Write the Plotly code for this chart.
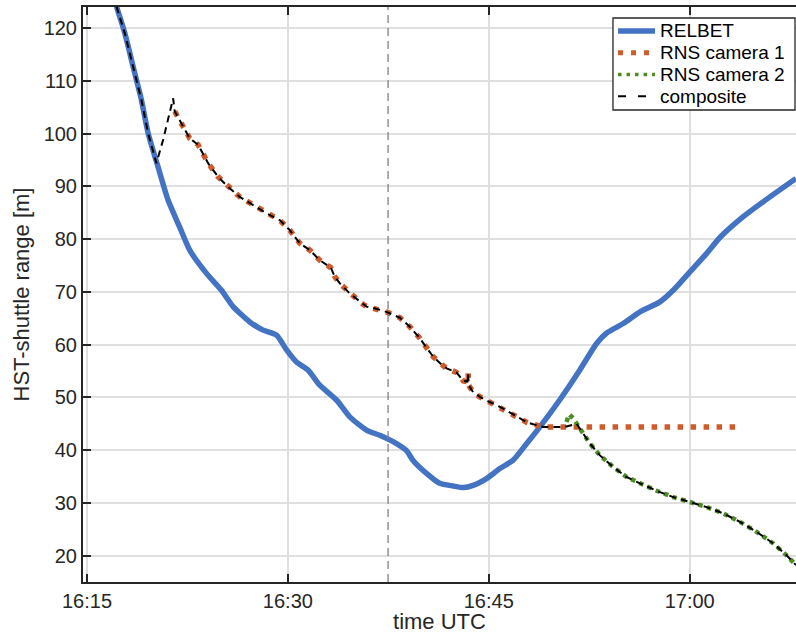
import plotly.graph_objects as go

# Time axis: minutes after 16:00 UTC
tick_minutes = [15, 30, 45, 60]
tick_labels = ["16:15", "16:30", "16:45", "17:00"]
y_ticks = [20, 30, 40, 50, 60, 70, 80, 90, 100, 110, 120]
series_names = ["RELBET", "RNS camera 1", "RNS camera 2", "composite"]

# RELBET range solution
relbet_t = [17.2, 17.82, 18.44, 19.06, 19.56, 20.30, 21.05, 21.9, 22.67, 23.92,
            25.04, 25.91, 27.15, 28.15, 29.15, 29.9, 30.64, 31.5, 32.38, 33.63,
            34.62, 35.87, 36.86, 38.11, 38.86, 39.33, 40.35, 41.34, 42.34, 43.09,
            43.83, 44.83, 45.83, 46.82, 47.82, 48.82, 50.32, 51.8, 53.05, 53.8,
            55.04, 56.29, 57.78, 58.77, 60.02, 61.27, 62.26, 64.0, 65.5, 67.94]
relbet_v = [124.1, 119.05, 112.7, 106.4, 100.1, 93.7, 87.4, 82.4, 77.9, 73.5,
            70.3, 67.2, 64.3, 62.75, 61.8, 59.0, 56.7, 55.2, 52.3, 49.5,
            46.3, 43.8, 42.8, 41.25, 39.9, 38.1, 35.6, 33.7, 33.2, 32.9,
            33.3, 34.6, 36.5, 38.1, 41.2, 44.4, 49.6, 55.2, 60.2, 62.2,
            64.0, 66.2, 68.1, 70.3, 73.8, 77.3, 80.3, 84.25, 87.1, 91.5]

# RNS camera 1
cam1_t = [21.55, 22.05, 22.67, 23.29, 24.04, 24.79, 25.53, 26.41, 27.4, 28.4,
          29.39, 30.14, 30.89, 31.64, 32.38, 33.2, 33.5, 33.88, 34.62, 35.37,
          35.87, 36.6, 37.36, 38.36, 39.1, 39.85, 40.35, 40.85, 41.35, 41.85,
          42.6, 43.1, 43.4, 43.46, 43.5, 43.83, 44.33, 44.83, 45.83, 46.82,
          47.82, 48.32, 49.07, 63.51]
cam1_v = [104.2, 102.0, 99.1, 97.9, 94.4, 91.8, 89.9, 88.0, 86.5, 84.9,
          83.6, 81.7, 79.2, 77.9, 76.0, 74.6, 72.9, 71.6, 69.7, 68.1,
          67.2, 66.8, 66.2, 65.1, 63.4, 61.2, 59.4, 57.7, 56.5, 55.5,
          54.7, 53.1, 53.0, 54.5, 52.3, 51.0, 50.1, 49.4, 48.2, 46.7,
          45.3, 44.9, 44.4, 44.4]

# RNS camera 2
cam2_t = [50.8, 51.0, 51.3, 51.56, 52.55, 53.3, 54.29, 55.29, 56.29, 57.53,
          58.77, 60.02, 61.27, 62.51, 63.76, 65.0, 66.25, 67.24, 67.94]
cam2_v = [45.35, 46.8, 46.0, 45.0, 41.25, 39.0, 36.8, 34.9, 33.7, 32.3,
          31.1, 30.2, 29.2, 28.0, 26.4, 24.5, 22.3, 20.05, 18.2]

# Hand-over segments of the composite solution
bridge_in_t = [20.18, 20.68, 21.1, 21.43]
bridge_in_v = [94.4, 98.8, 103.5, 106.7]
bridge_out_t = [50.67]
bridge_out_v = [44.4]
relbet_until = 20.18
cam1_until = 49.07
cam2_from = 51.56

marker_time = 37.48  # 16:37:29

comp_t, comp_v = [], []
for t, v in zip(relbet_t, relbet_v):
    if t < relbet_until:
        comp_t.append(t); comp_v.append(v)
comp_t += bridge_in_t; comp_v += bridge_in_v
for t, v in zip(cam1_t, cam1_v):
    if t <= cam1_until:
        comp_t.append(t); comp_v.append(v)
comp_t += bridge_out_t; comp_v += bridge_out_v
for t, v in zip(cam2_t, cam2_v):
    if t >= cam2_from:
        comp_t.append(t); comp_v.append(v)

FONT = "Liberation Sans, Arial, Helvetica, sans-serif"
INK = "#262626"

styles = [
    dict(color="#4473C3", width=5.5),
    dict(color="#CF5A2A", width=5.5, dash="5.5px,7.5px"),
    dict(color="#4E8C24", width=4.5, dash="4.5px,4.5px"),
    dict(color="black", width=2, dash="7px,5px"),
]

fig = go.Figure()
fig.add_trace(go.Scatter(x=relbet_t, y=relbet_v, mode="lines", name=series_names[0],
                         line=dict(**styles[0], shape="spline", smoothing=0.6)))
fig.add_trace(go.Scatter(x=cam1_t, y=cam1_v, mode="lines", name=series_names[1],
                         line=styles[1]))
fig.add_trace(go.Scatter(x=cam2_t, y=cam2_v, mode="lines", name=series_names[2],
                         line=styles[2]))
fig.add_trace(go.Scatter(x=comp_t, y=comp_v, mode="lines", name=series_names[3],
                         line=styles[3]))

fig.add_shape(type="line", xref="x", yref="paper", x0=marker_time, x1=marker_time,
              y0=0, y1=1, line=dict(color="#808080", width=1.3, dash="8px,5px"))

# Compact boxed legend in the upper-right corner
fig.add_shape(type="rect", xref="paper", yref="paper", x0=0.7433, x1=0.9986,
              y0=0.8209, y1=0.9809, fillcolor="white",
              line=dict(color=INK, width=1.3))
legend_rows = [0.9583, 0.9204, 0.8826, 0.8449]
legend_styles = [
    dict(color="#4473C3", width=5.5),
    dict(color="#CF5A2A", width=5, dash="5px,8px"),
    dict(color="#4E8C24", width=3.5, dash="3.5px,5px"),
    dict(color="black", width=2, dash="8px,12px"),
]
for name, yrow, st in zip(series_names, legend_rows, legend_styles):
    fig.add_shape(type="line", xref="paper", yref="paper", x0=0.7504, x1=0.8023,
                  y0=yrow, y1=yrow, line=st)
    fig.add_annotation(text=name, xref="paper", yref="paper", x=0.8065, y=yrow,
                       xanchor="left", yanchor="middle", showarrow=False,
                       font=dict(size=19, family=FONT, color="black"))

fig.update_layout(
    width=796, height=634,
    margin=dict(l=83, r=0, t=7, b=52),
    plot_bgcolor="white", paper_bgcolor="white",
    font=dict(family=FONT, color=INK),
    showlegend=False,
)
fig.update_xaxes(range=[14.7, 67.94], tickvals=tick_minutes, ticktext=tick_labels,
                 ticks="inside", ticklen=8, tickwidth=1.5, tickcolor=INK,
                 showline=True, linecolor=INK, linewidth=2, mirror="ticks",
                 showgrid=True, gridcolor="#dfdfdf", gridwidth=1.5, zeroline=False,
                 tickfont=dict(size=20, family=FONT, color=INK),
                 title=dict(text="time UTC", font=dict(size=22, family=FONT, color=INK),
                            standoff=4))
fig.update_yaxes(range=[15, 124], tickvals=y_ticks,
                 ticks="inside", ticklen=8, tickwidth=1.5, tickcolor=INK,
                 showline=True, linecolor=INK, linewidth=2, mirror=False,
                 showgrid=True, gridcolor="#dfdfdf", gridwidth=1.5, zeroline=False,
                 tickfont=dict(size=20, family=FONT, color=INK),
                 title=dict(text="HST-shuttle range [m]",
                            font=dict(size=22, family=FONT, color=INK), standoff=8))

fig.write_html("out.html")
